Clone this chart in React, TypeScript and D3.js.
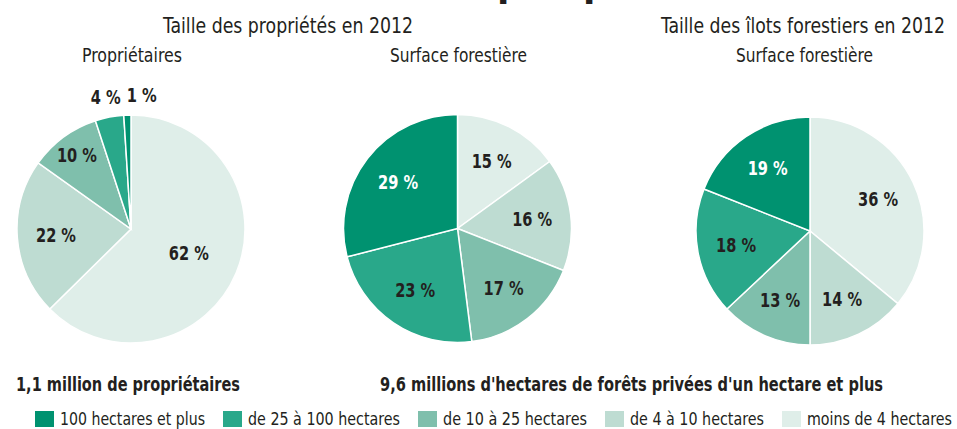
import React, { useEffect, useRef } from "react";
import * as d3 from "d3";

const categories = [
  "100 hectares et plus",
  "de 25 à 100 hectares",
  "de 10 à 25 hectares",
  "de 4 à 10 hectares",
  "moins de 4 hectares",
];
const colors = ["#009270", "#29a88a", "#7fbfac", "#bedcd2", "#dfeee9"];

// values listed in drawing order (clockwise from 12 o'clock): smallest class first
const proprietairesValues = [62, 22, 10, 4, 1];
const surfaceProprietesValues = [15, 16, 17, 23, 29];
const surfaceIlotsValues = [36, 14, 13, 18, 19];
// category index for each slice in drawing order
const sliceCategories = [4, 3, 2, 1, 0];

const groupTitles = ["Taille des propriétés en 2012", "Taille des îlots forestiers en 2012"];
const pieTitles = ["Propriétaires", "Surface forestière", "Surface forestière"];
const footnotes = ["1,1 million de propriétaires", "9,6 millions d'hectares de forêts privées d'un hectare et plus"];

const W = 957;
const H = 429;
const FONT = "'Liberation Sans Narrow', 'DejaVu Sans Condensed', 'DejaVu Sans', sans-serif";
const DARK = "#231f20";

function fit(sel: d3.Selection<SVGTextElement, any, any, any>, target: number) {
  const node = sel.node() as SVGTextElement;
  const w = node.getComputedTextLength();
  if (Math.abs(w - target) > 1) {
    sel.attr("textLength", target).attr("lengthAdjust", "spacingAndGlyphs");
  }
}

export default function App() {
  const ref = useRef<SVGSVGElement>(null);

  useEffect(() => {
    const svg = d3.select(ref.current);
    svg.selectAll("*").remove();

    const base = (g: d3.Selection<SVGTextElement, any, any, any>) =>
      g.attr("font-family", FONT).attr("font-stretch", "condensed").attr("fill", DARK);

    // cut-off letters from a heading above the frame
    svg
      .append("g")
      .selectAll("text")
      .data([497, 583])
      .join("text")
      .attr("x", (d) => d)
      .attr("y", -5)
      .call(base)
      .attr("font-weight", "bold")
      .attr("font-size", 40)
      .text("p");

    // group titles
    const titleX = [163, 661];
    const titleW = [250, 284];
    svg
      .append("g")
      .selectAll("text")
      .data(groupTitles)
      .join("text")
      .attr("x", (_, i) => titleX[i])
      .attr("y", 33)
      .call(base)
      .attr("font-size", 22)
      .text((d) => d)
      .each(function (_, i) {
        fit(d3.select(this as SVGTextElement), titleW[i]);
      });

    const pies = [
      { values: proprietairesValues, cx: 131, cy: 229, tx: 82, tw: 100 },
      { values: surfaceProprietesValues, cx: 457.5, cy: 228.5, tx: 390, tw: 137 },
      { values: surfaceIlotsValues, cx: 810, cy: 231, tx: 736, tw: 137 },
    ];
    const R = 114;

    svg
      .append("g")
      .selectAll("text")
      .data(pieTitles)
      .join("text")
      .attr("x", (_, i) => pies[i].tx)
      .attr("y", 62)
      .call(base)
      .attr("font-size", 19)
      .text((d) => d)
      .each(function (_, i) {
        fit(d3.select(this as SVGTextElement), pies[i].tw);
      });

    const pieGen = d3
      .pie<number>()
      .sort(null)
      .value((d) => d)
      .startAngle(0)
      .endAngle(2 * Math.PI);
    const arc = d3.arc<d3.PieArcDatum<number>>().innerRadius(0).outerRadius(R);

    pies.forEach((p) => {
      const arcs = pieGen(p.values);
      const g = svg.append("g").attr("transform", `translate(${p.cx},${p.cy})`);
      g.selectAll("path")
        .data(arcs)
        .join("path")
        .attr("d", arc)
        .attr("fill", (_, i) => colors[sliceCategories[i]])
        .attr("stroke", "#fff")
        .attr("stroke-width", 1.5);

      g.selectAll("text")
        .data(arcs)
        .join("text")
        .each(function (d, i) {
          const v = d.data;
          const outside = v < 5;
          let r = 0.66 * R;
          if (v > 50) r = 0.55 * R;
          else if (outside) r = R + 20;
          else if (v <= 10) r = 0.8 * R;
          const a = (d.startAngle + d.endAngle) / 2;
          const x = Math.sin(a) * r;
          const y = -Math.cos(a) * r;
          const anchor = outside && Math.abs(Math.sin(a)) < 0.1 ? "start" : "middle";
          const t = d3
            .select(this as SVGTextElement)
            .attr("x", x)
            .attr("y", y)
            .attr("dy", "0.35em")
            .attr("text-anchor", anchor)
            .call(base)
            .attr("font-weight", "bold")
            .attr("font-size", 19)
            .attr("fill", !outside && sliceCategories[i] === 0 ? "#fff" : DARK)
            .text(`${v} %`);
          fit(t, String(v).length === 1 ? 30 : 40);
        });
    });

    // footnotes
    const footX = [16, 380];
    const footW = [224, 503];
    svg
      .append("g")
      .selectAll("text")
      .data(footnotes)
      .join("text")
      .attr("x", (_, i) => footX[i])
      .attr("y", 391)
      .call(base)
      .attr("font-weight", "bold")
      .attr("font-size", 19)
      .text((d) => d)
      .each(function (_, i) {
        fit(d3.select(this as SVGTextElement), footW[i]);
      });

    // legend
    const legendW = [145, 152, 144, 134, 145];
    const lg = svg.append("g");
    let x = 35;
    categories.forEach((c, i) => {
      lg.append("rect")
        .attr("x", x)
        .attr("y", 411)
        .attr("width", 19)
        .attr("height", 16)
        .attr("fill", colors[i]);
      const t = lg
        .append("text")
        .attr("x", x + 25)
        .attr("y", 425)
        .call(base)
        .attr("font-size", 18)
        .text(c);
      fit(t, legendW[i]);
      x = x + 25 + legendW[i] + 18;
    });
  }, []);

  return (
    <svg
      ref={ref}
      width={W}
      height={H}
      viewBox={`0 0 ${W} ${H}`}
      style={{ position: "absolute", left: 0, top: 0, background: "#fff", display: "block" }}
    />
  );
}
